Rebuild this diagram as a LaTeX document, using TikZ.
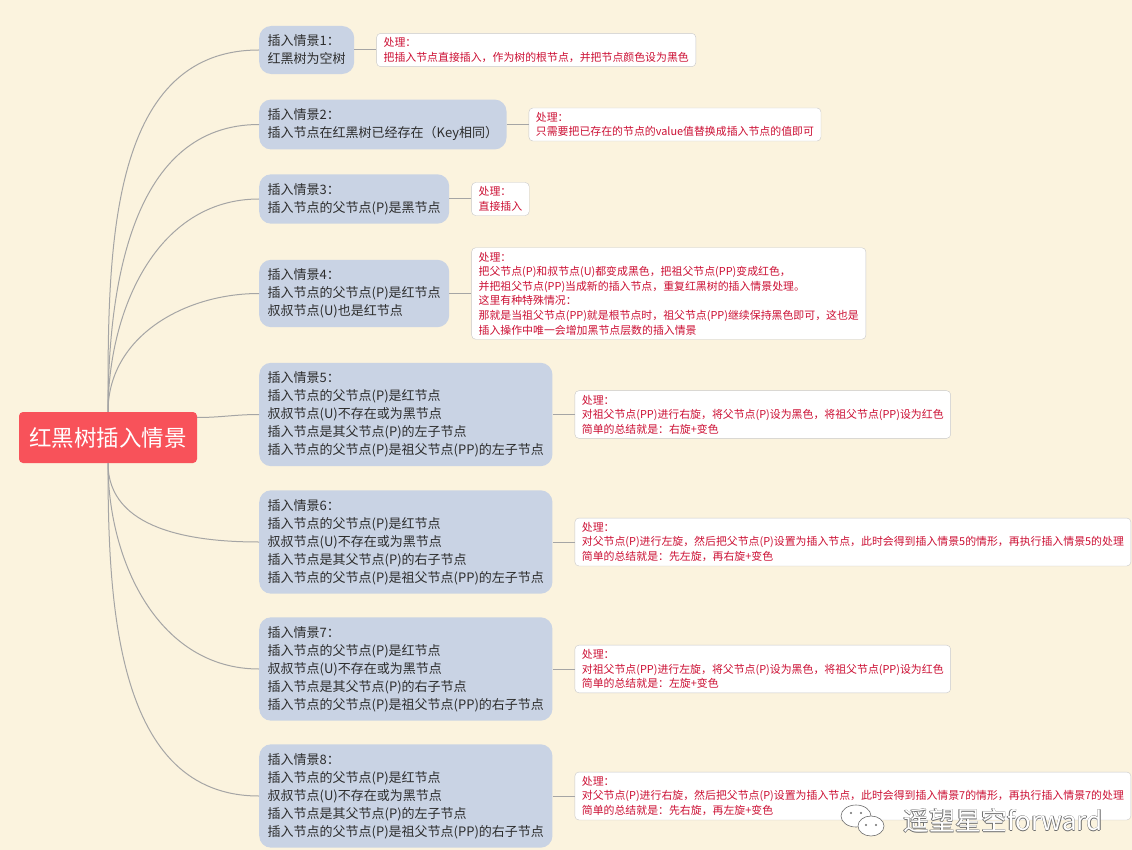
\documentclass[tikz,border=0pt]{standalone}
\usepackage{fontspec}
\setmainfont{Noto Sans CJK SC}
\usetikzlibrary{positioning}
\definecolor{bgcream}{RGB}{251,243,222}
\definecolor{rootred}{RGB}{248,82,90}
\definecolor{topicblue}{RGB}{201,211,228}
\definecolor{topictext}{RGB}{45,45,45}
\definecolor{notered}{RGB}{204,16,52}
\definecolor{noteline}{RGB}{200,200,200}
\definecolor{linkgray}{RGB}{165,165,165}
\definecolor{markgray}{RGB}{110,110,110}

\begin{document}
\begin{tikzpicture}[x=1pt,y=-1pt,
	root/.style={fill=rootred,text=white,rounded corners=4pt,minimum width=178pt,minimum height=51pt,font=\fontsize{22.5}{26}\selectfont},
	topic/.style={fill=topicblue,text=topictext,rounded corners=12pt,anchor=west,align=left,inner xsep=8.5pt,inner ysep=9pt,font=\fontsize{13}{18}\selectfont},
	note/.style={fill=white,draw=noteline,text=notered,rounded corners=4pt,align=left,inner xsep=7pt,inner ysep=4.2pt,font=\fontsize{10.9}{14.6}\selectfont},
	link/.style={draw=linkgray,line width=1pt},
	marktext/.style={font=\fontsize{26}{28}\selectfont}]
	\useasboundingbox (0,0) rectangle (1132,850);
	\fill[bgcream] (0,0) rectangle (1132,850);

	% centre
	\node[root] (root) at (108,437.5) {红黑树插入情景};

	% cases
	\node[topic] (t1) at (259,50) {插入情景1：\\红黑树为空树};
	\node[topic] (t2) at (259,124.5) {插入情景2：\\插入节点在红黑树已经存在（Key相同）};
	\node[topic] (t3) at (259,199) {插入情景3：\\插入节点的父节点(P)是黑节点};
	\node[topic] (t4) at (259,293.5) {插入情景4：\\插入节点的父节点(P)是红节点\\叔叔节点(U)也是红节点};
	\node[topic] (t5) at (259,414.5) {插入情景5：\\插入节点的父节点(P)是红节点\\叔叔节点(U)不存在或为黑节点\\插入节点是其父节点(P)的左子节点\\插入节点的父节点(P)是祖父节点(PP)的左子节点};
	\node[topic] (t6) at (259,542) {插入情景6：\\插入节点的父节点(P)是红节点\\叔叔节点(U)不存在或为黑节点\\插入节点是其父节点(P)的右子节点\\插入节点的父节点(P)是祖父节点(PP)的左子节点};
	\node[topic] (t7) at (259,669) {插入情景7：\\插入节点的父节点(P)是红节点\\叔叔节点(U)不存在或为黑节点\\插入节点是其父节点(P)的右子节点\\插入节点的父节点(P)是祖父节点(PP)的右子节点};
	\node[topic] (t8) at (259,796) {插入情景8：\\插入节点的父节点(P)是红节点\\叔叔节点(U)不存在或为黑节点\\插入节点是其父节点(P)的左子节点\\插入节点的父节点(P)是祖父节点(PP)的右子节点};

	% what to do
	\node[note,right=22pt of t1] (n1) {处理：\\把插入节点直接插入，作为树的根节点，并把节点颜色设为黑色};
	\node[note,right=22pt of t2] (n2) {处理：\\只需要把已存在的节点的value值替换成插入节点的值即可};
	\node[note,right=22pt of t3] (n3) {处理：\\直接插入};
	\node[note,right=22pt of t4] (n4) {处理：\\把父节点(P)和叔节点(U)都变成黑色，把祖父节点(PP)变成红色，\\并把祖父节点(PP)当成新的插入节点，重复红黑树的插入情景处理。\\这里有种特殊情况：\\那就是当祖父节点(PP)就是根节点时，祖父节点(PP)继续保持黑色即可，这也是\\插入操作中唯一会增加黑节点层数的插入情景};
	\node[note,right=22pt of t5] (n5) {处理：\\对祖父节点(PP)进行右旋，将父节点(P)设为黑色，将祖父节点(PP)设为红色\\简单的总结就是：右旋+变色};
	\node[note,right=22pt of t6] (n6) {处理：\\对父节点(P)进行左旋，然后把父节点(P)设置为插入节点，此时会得到插入情景5的情形，再执行插入情景5的处理\\简单的总结就是：先左旋，再右旋+变色};
	\node[note,right=22pt of t7] (n7) {处理：\\对祖父节点(PP)进行左旋，将父节点(P)设为黑色，将祖父节点(PP)设为红色\\简单的总结就是：左旋+变色};
	\node[note,right=22pt of t8] (n8) {处理：\\对父节点(P)进行右旋，然后把父节点(P)设置为插入节点，此时会得到插入情景7的情形，再执行插入情景7的处理\\简单的总结就是：先右旋，再左旋+变色};

	% branches
	\foreach \i in {1,2,3,4}
		\draw[link] (root.north) to[out=90,in=180] (t\i.west);
	\draw[link] ([yshift=20pt]root.east) to[out=0,in=180] (t5.west);
	\foreach \i in {6,7,8}
		\draw[link] (root.south) to[out=-90,in=180] (t\i.west);
	\foreach \i in {1,...,8}
		\draw[link] (t\i.east) -- (n\i.west);

	% watermark
	\draw[markgray,fill=white,line width=0.6pt] (856,816) ellipse (15 and 11);
	\draw[markgray,fill=white,line width=0.6pt] (871,826) ellipse (13 and 10);
	\foreach \x/\y in {851/813,861/813,866/825,876/825}
		\fill[markgray] (\x,\y) circle (1.2);
	\foreach \dx/\dy in {0.5/0,-0.5/0,0/0.5,0/-0.5}
		\node[marktext,text=markgray] at ({1003+\dx},{821+\dy}) {遥望星空forward};
	\node[marktext,text=white] (mark) at (1003,821) {遥望星空forward};
\end{tikzpicture}
\end{document}
